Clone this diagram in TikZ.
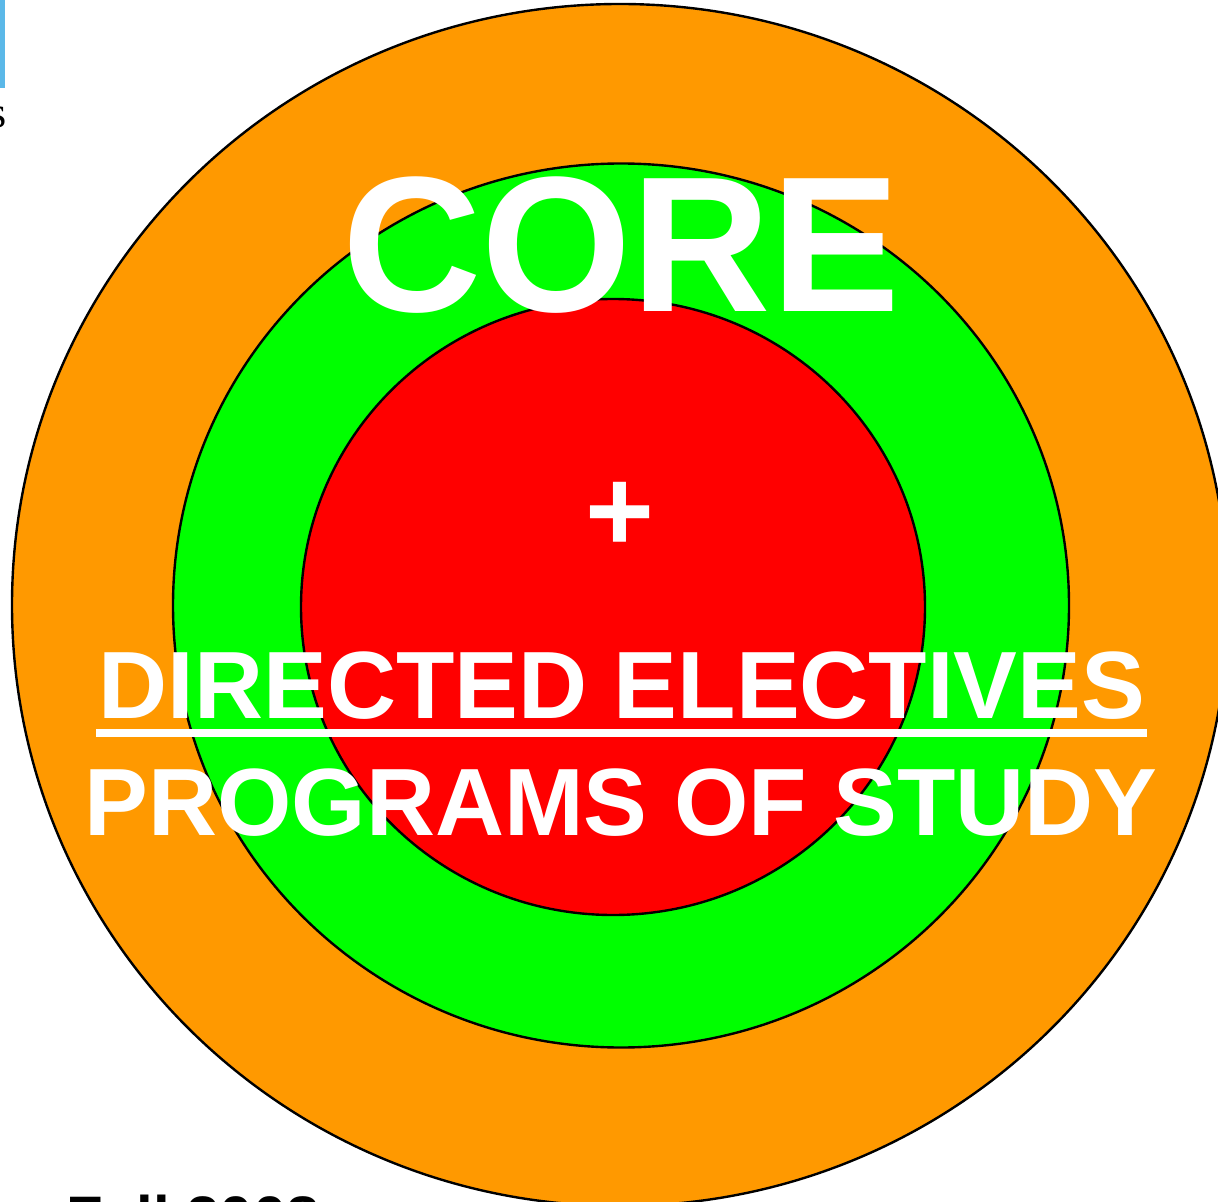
\documentclass[tikz,border=0pt]{standalone}
\usepackage{fontspec}
\setmainfont{Liberation Sans}
\newfontfamily\serifcut{Liberation Serif}
\definecolor{ringorange}{HTML}{FF9900}
\definecolor{ringgreen}{HTML}{00FF00}
\definecolor{ringred}{HTML}{FF0000}
\definecolor{edgeblue}{HTML}{5BB8E8}
\tikzset{
  ring/.style={draw=black, line width=1.2},
  bigword/.style={text=white, inner sep=0, anchor=base, font=\bfseries\fontsize{96.5bp}{110bp}\selectfont},
  midword/.style={text=white, inner sep=0, anchor=base, font=\bfseries\fontsize{47.8bp}{58bp}\selectfont},
}
\begin{document}
\begin{tikzpicture}[x=0.5bp,y=-0.5bp]
\useasboundingbox (0,0) rectangle (1218,1202);
\clip (0,0) rectangle (1218,1202);
\fill[white] (0,0) rectangle (1218,1202);
% outer, middle, inner rings
\filldraw[ring, fill=ringorange] (620,605) ellipse [x radius=608, y radius=601];
\filldraw[ring, fill=ringgreen] (621,605.5) ellipse [x radius=448, y radius=442];
\filldraw[ring, fill=ringred] (613,607) ellipse [x radius=312, y radius=308];
% texts
\node[bigword] (core) at (621,312) {CORE};
\node[text=white, inner sep=0, anchor=base, font=\bfseries\fontsize{59bp}{64bp}\selectfont] (plus) at (620,551) {+};
\node[midword] (de) at (622,718) {DIRECTED ELECTIVES};
\fill[white] (96,729) rectangle (1147,737);
\node[midword] (ps) at (621,835) {PROGRAMS OF STUDY};
% cut-off fragments at edges
\draw[edgeblue, line width=2.5bp] (2,0) -- (2,88);
\node[inner sep=0, anchor=base east, font=\serifcut\fontsize{22bp}{26bp}\selectfont] (s) at (7,128) {s};
\node[inner sep=0, anchor=base west, font=\bfseries\fontsize{30bp}{36bp}\selectfont] (fall) at (66,1238) {Fall 2008};
\end{tikzpicture}
\end{document}
